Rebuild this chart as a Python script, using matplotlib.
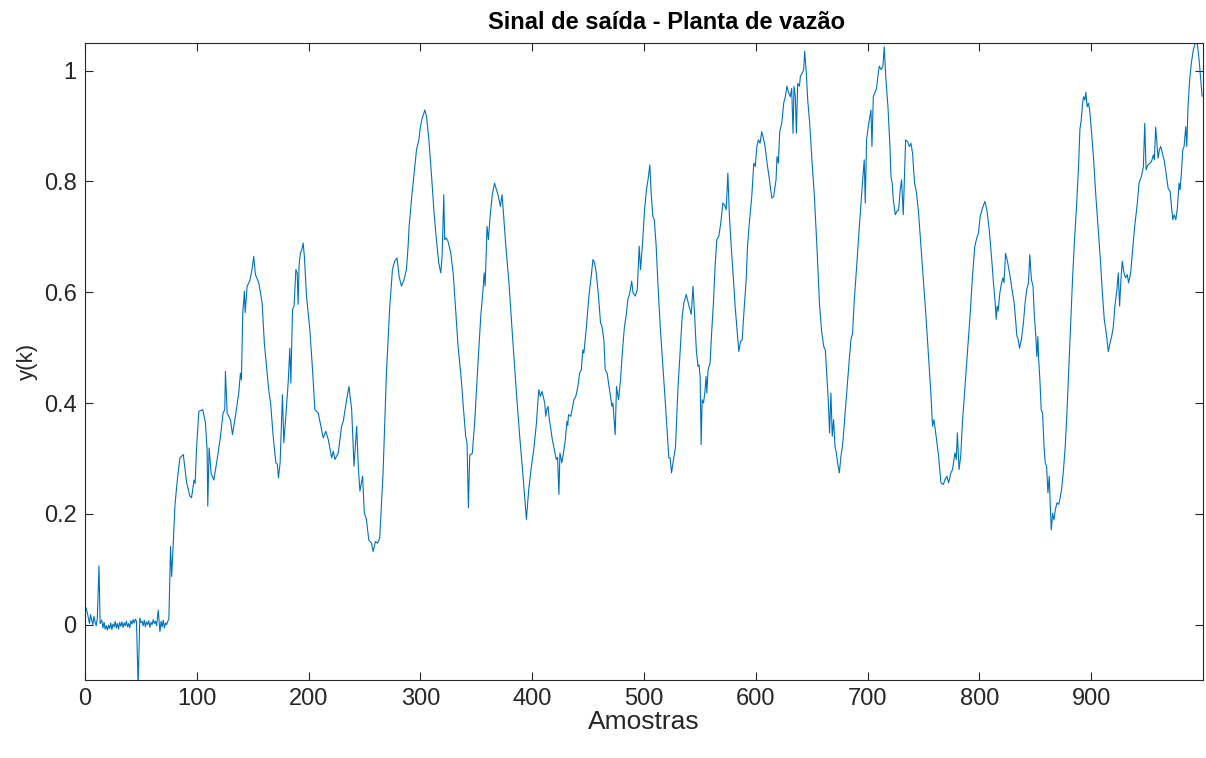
import numpy as np
import matplotlib
matplotlib.use("Agg")
import matplotlib.pyplot as plt

plt.rcParams['font.family'] = ['Liberation Sans', 'DejaVu Sans']

# sample index (k) and output y(k)
k = [1, 2, 3, 4, 5, 6, 7, 8, 9, 10, 11, 12.5, 13.5, 15, 16, 17, 18, 19, 20,
     21, 22, 23, 24, 25, 26, 27, 28, 29, 30, 31, 32, 33, 34, 35, 36, 37, 38,
     39, 40, 41, 42, 43, 44, 45, 46, 47.5, 49, 50, 51, 52, 53, 54, 55, 56,
     57, 58, 59, 60, 61, 62, 63, 64, 65.5, 67, 68, 69, 70, 71, 72, 73, 74,
     75, 76.5, 77.5, 79, 80.4, 82, 83.5, 84.9,
     87.9, 90.9, 93.8, 95.3, 97.5, 98.5, 99.7, 101.8, 105.3, 107.7, 109.2,
     109.8, 111.0, 112.8, 115.2, 118.1, 121.1, 123.5, 125.0, 125.6, 127.1,
     130.1, 131.9, 134.5, 137.5, 139.0, 139.9, 141.1, 142.6, 143.2, 145.0,
     147.3, 149.4, 150.9, 152.4, 155.4, 158.4, 160.4, 164.3,
     166.0, 168.3, 170.7, 172, 173.0, 174.5, 176.6, 177.8, 179.6, 181.7,
     183.2, 184.1, 185.6, 187, 188.6, 189.8, 190.6, 191.5, 192.7, 194, 195.1,
     196.2, 198.1, 201.1, 203.5, 205.6, 208.6, 211.6, 213.1, 215.4, 217.6,
     220.6, 222.1, 223.5, 226.5, 229.5, 231.0, 234.0, 236.1, 238.5, 240.6,
     243.0, 244.4, 245.9, 248.3, 249.8,
     251.7, 253.8, 256.2, 257.7, 259.8, 261.5, 263.6, 266.6, 269.6, 272.6,
     275.0, 277.0, 279.1, 280.9, 283.0, 285.4, 287.5, 289.0, 289.9, 292.0,
     294.4, 296.5, 298.6, 300.0, 301.6, 304.0, 305.5, 307.6, 309.8, 312.2,
     314.3, 316.4, 318.2, 319.4, 320.9, 321.7, 323.2, 324.7, 327.1, 329.3,
     331.3, 333.7, 336.6,
     338.1, 340.5, 341.7, 342.9, 344.1, 346.4, 348.5, 351.5, 354.0, 356.0,
     357.0, 357.9, 359.6, 360.8, 362.6, 364.3, 366.3, 368.0, 369.8, 371.5,
     373.0, 374.5, 376.3, 379.2, 382.8, 385.9, 388.8, 391.8, 394.8, 396.9,
     399.3, 401.4, 403.8, 405.8, 407.3, 408.8, 411.2, 412.1, 413.0, 414.1,
     415.0, 418.0, 420.9,
     421.5, 422.7, 423.9, 424.8, 426.5, 428, 429.5, 431.1, 431.8, 432.5,
     434.5, 437.3, 439, 440.9, 442.4, 443.9, 445.3, 446.2, 448.3, 450.7,
     452.8, 454.3, 455.8, 457.3, 459.3, 461.1, 462.3, 464.1, 465.3, 467,
     469.2, 471.3, 472.2, 474.2, 475.4, 477.2, 479.0, 480.8, 482.5, 484,
     485.5, 487.3, 489.0, 490.2, 492.2, 494, 495.7, 496.9, 498.7, 500.5,
     502.2, 504, 505.2, 506.4, 507.9, 509.2, 510.9, 512.4, 514.5, 516.9,
     519.3, 521.3, 522.2, 523.4, 524.6, 526.4, 528.2, 530.3, 532.4, 534.2,
     535.7, 537.8, 539.9, 542.3, 543.8, 545.3, 546.8, 548.3, 549.2, 550.2,
     551.1, 552.0, 553.2, 554.4, 555.5, 556.2, 557.3, 559.1, 560.3, 562.1,
     563.6, 565.1, 566.9, 568.7, 570.5, 572, 573.5, 575.0, 576.4, 578.2,
     580.0, 581.5, 583.0, 584.8, 586.3, 587.8, 589.3,
     591.4, 592.5, 594, 596.4, 598.2, 599.5, 600.9, 602.3, 603.8, 605.3,
     606.8, 608.3, 610.1, 612.2, 614.3, 616.0, 618.1, 619.0, 620.2, 621.4,
     623.2, 625.0, 626.2, 627.9, 629.4, 630.9, 632.1, 633.3, 634.2, 635.3,
     636.3, 637.5, 639.0, 639.9, 641.6, 642.8, 643.7, 645.2, 646.4, 648.2,
     650.0, 652.4, 654.8, 656.9, 659.0, 660.8, 662.2, 663.4, 664.8, 666.0,
     667.2, 668.4, 669.6, 670.8, 672.0, 673.2, 674.7,
     676.2, 677.7, 679.2, 681.3, 683.6, 685.1, 686.6, 688.1, 690.2, 692.0,
     694.1, 695.6, 697.0, 697.9, 699.1, 700.6, 702.1, 703.0, 703.9, 705.1,
     706.8, 708.0, 709.2, 710.4, 712.2, 713.7, 714.9, 716.4, 718.2, 720.0,
     720.9, 722, 723.0, 724.8, 726.2, 727.7, 729.2, 730.4, 731.9, 733.1,
     734.0, 735.8, 737.3, 738.8, 740.2, 742.0, 743.8, 745.6, 747.7, 749.8,
     752.2, 754.5, 756.6, 758.1, 759.3, 760.5, 761.7, 763.5,
     765.6, 767.7, 769.3, 770.9, 772.5, 774.5, 776, 778.1, 779.3, 780.3,
     781.8, 783.3, 784.8, 786.9, 789.4, 791.8, 793.8, 795.9, 797.7, 799.2,
     800.7, 802.8, 804.9, 806.7, 808.8, 810.8, 812.6, 814.1, 815.0, 815.9,
     816.8, 818.3, 819.8, 821.0, 822.0, 823.4, 825.1, 827.5, 829.6, 831.1,
     832.6, 833.5, 834.7, 835.9, 837.6, 839.4, 840.9, 842.4, 843.9, 845.1,
     846.5, 848.0,
     849.0, 850.5, 851.4, 852.3, 852.9, 854.1, 855.3, 856.5, 857.8, 858.9,
     860.1, 861.3, 862.5, 863.4, 864.3, 865.5, 866.7, 867.9, 869.4, 870.9,
     872.0, 873.5, 875.0, 876.8, 878.3, 879.8, 881.5, 883.3, 885.1, 886.9,
     888.7, 889.9, 891.1, 892.3, 893.2, 894.4, 895.2, 896.4, 897.6, 898.6,
     900.4, 902.2, 904.0, 906.1, 908.2, 910.0, 911.7, 913.5, 915.3, 916.8,
     918.3, 919.8, 921.2, 923.0, 924.2, 925.4, 926.6, 927.8, 929.3, 930.8,
     932.2, 933.5, 935.3, 936.8, 938.9, 941.3, 942.8, 944.9, 946.7, 947.9,
     949.1, 950.8, 952.6, 954, 955.6, 956.5, 957.7, 958.6, 959.8, 961,
     962.2, 963.7, 965.2, 967.0, 968.8, 970.6, 971.8, 973.0, 974.2, 975.7,
     977.1, 978.6, 979.5, 980.7, 981.9, 983.1, 984.6, 985.5, 986.6, 988.1,
     989.6, 991.4, 993.5, 995.0, 996.5, 998.0, 999.2]

y = [0.030, 0.022, 0.012, 0.002, 0.018, 0.008, 0.000, 0.015, 0.004, -0.002,
     0.012, 0.106, 0.002, 0.008, -0.006, 0.004, -0.008, -0.002, -0.010,
     -0.001, -0.007, 0.003, -0.009, 0.001, -0.004, 0.006, -0.006, 0.002,
     -0.008, 0.004, -0.003, 0.005, -0.005, 0.003, -0.002, 0.006, -0.004,
     0.002, -0.006, 0.007, 0.001, 0.009, 0.003, 0.010, 0.006, -0.11, 0.012,
     0.004, 0.006, -0.002, 0.008, -0.004, 0.005, 0.000, 0.007, -0.005, 0.004,
     0.000, 0.009, 0.002, 0.006, -0.002, 0.026, -0.013, 0.006, -0.004, 0.008,
     -0.006, 0.003, 0.000, 0.006, 0.010, 0.141, 0.087, 0.150, 0.214, 0.250,
     0.278, 0.301,
     0.307, 0.256, 0.232, 0.229, 0.261, 0.255, 0.316, 0.385, 0.388, 0.364,
     0.316, 0.214, 0.319, 0.273, 0.261, 0.297, 0.339, 0.382, 0.388, 0.457,
     0.382, 0.370, 0.343, 0.376, 0.418, 0.454, 0.442, 0.563, 0.602, 0.563,
     0.611, 0.620, 0.641, 0.665, 0.632, 0.617, 0.581, 0.508, 0.424,
     0.400, 0.340, 0.292, 0.290, 0.265, 0.292, 0.415, 0.328, 0.376, 0.436,
     0.499, 0.436, 0.569, 0.575, 0.641, 0.635, 0.578, 0.650, 0.671, 0.677,
     0.689, 0.665, 0.593, 0.532, 0.460, 0.388, 0.382, 0.352, 0.337, 0.349,
     0.334, 0.301, 0.313, 0.298, 0.310, 0.358, 0.367, 0.406, 0.430, 0.388,
     0.286, 0.358, 0.286, 0.241, 0.268, 0.202,
     0.190, 0.153, 0.147, 0.132, 0.150, 0.147, 0.156, 0.274, 0.454, 0.575,
     0.641, 0.656, 0.662, 0.629, 0.611, 0.623, 0.641, 0.683, 0.719, 0.767,
     0.815, 0.857, 0.875, 0.899, 0.914, 0.929, 0.917, 0.875, 0.815, 0.743,
     0.695, 0.653, 0.635, 0.665, 0.776, 0.695, 0.698, 0.692, 0.671, 0.635,
     0.575, 0.502, 0.442,
     0.400, 0.340, 0.328, 0.211, 0.306, 0.309, 0.364, 0.472, 0.557, 0.605,
     0.635, 0.611, 0.719, 0.695, 0.743, 0.776, 0.797, 0.785, 0.773, 0.755,
     0.776, 0.737, 0.686, 0.617, 0.508, 0.418, 0.340, 0.268, 0.190, 0.244,
     0.286, 0.316, 0.364, 0.424, 0.412, 0.421, 0.400, 0.376, 0.388, 0.394,
     0.376, 0.334, 0.304,
     0.298, 0.302, 0.235, 0.310, 0.292, 0.310, 0.331, 0.367, 0.360, 0.379,
     0.376, 0.406, 0.412, 0.430, 0.454, 0.460, 0.496, 0.490, 0.533, 0.593,
     0.629, 0.659, 0.653, 0.635, 0.593, 0.545, 0.539, 0.514, 0.460, 0.454,
     0.424, 0.394, 0.400, 0.343, 0.430, 0.406, 0.442, 0.496, 0.538, 0.557,
     0.586, 0.599, 0.620, 0.599, 0.593, 0.605, 0.683, 0.641, 0.689, 0.749,
     0.785, 0.809, 0.830, 0.779, 0.737, 0.731, 0.683, 0.617, 0.538, 0.466,
     0.394, 0.328, 0.301, 0.301, 0.274, 0.298, 0.322, 0.424, 0.496, 0.557,
     0.581, 0.596, 0.578, 0.560, 0.611, 0.557, 0.496, 0.466, 0.469, 0.448,
     0.325, 0.406, 0.400, 0.418, 0.448, 0.418, 0.460, 0.472, 0.520, 0.581,
     0.647, 0.695, 0.701, 0.725, 0.761, 0.758, 0.749, 0.815, 0.737, 0.677,
     0.623, 0.575, 0.538, 0.493, 0.511, 0.514, 0.562,
     0.623, 0.680, 0.720, 0.773, 0.833, 0.827, 0.863, 0.875, 0.869, 0.890,
     0.878, 0.863, 0.833, 0.803, 0.770, 0.773, 0.803, 0.845, 0.833, 0.890,
     0.905, 0.942, 0.951, 0.972, 0.960, 0.953, 0.968, 0.887, 0.972, 0.954,
     0.887, 0.977, 0.972, 0.990, 0.996, 1.002, 1.035, 0.996, 0.948, 0.905,
     0.845, 0.773, 0.677, 0.581, 0.527, 0.502, 0.496, 0.454, 0.406, 0.346,
     0.418, 0.340, 0.370, 0.322, 0.310, 0.292, 0.274,
     0.304, 0.325, 0.364, 0.418, 0.478, 0.514, 0.527, 0.586, 0.646, 0.701,
     0.761, 0.803, 0.839, 0.761, 0.875, 0.899, 0.917, 0.929, 0.863, 0.953,
     0.962, 0.968, 0.990, 1.008, 1.002, 1.008, 1.043, 0.984, 0.935, 0.863,
     0.809, 0.797, 0.767, 0.740, 0.746, 0.748, 0.785, 0.803, 0.740, 0.815,
     0.875, 0.872, 0.863, 0.869, 0.851, 0.797, 0.779, 0.743, 0.683, 0.623,
     0.557, 0.484, 0.418, 0.358, 0.370, 0.352, 0.334, 0.304,
     0.256, 0.253, 0.262, 0.268, 0.256, 0.274, 0.280, 0.310, 0.298, 0.346,
     0.280, 0.304, 0.364, 0.424, 0.496, 0.562, 0.629, 0.683, 0.698, 0.707,
     0.737, 0.752, 0.764, 0.749, 0.713, 0.665, 0.617, 0.581, 0.551, 0.575,
     0.566, 0.599, 0.617, 0.626, 0.617, 0.670, 0.656, 0.628, 0.599, 0.581,
     0.545, 0.521, 0.515, 0.499, 0.515, 0.545, 0.581, 0.605, 0.617, 0.668,
     0.623, 0.611,
     0.563, 0.520, 0.484, 0.520, 0.484, 0.442, 0.388, 0.382, 0.322, 0.292,
     0.286, 0.238, 0.268, 0.214, 0.171, 0.201, 0.189, 0.207, 0.220, 0.217,
     0.226, 0.244, 0.274, 0.322, 0.382, 0.454, 0.538, 0.623, 0.695, 0.755,
     0.827, 0.894, 0.911, 0.941, 0.953, 0.947, 0.961, 0.935, 0.941, 0.929,
     0.887, 0.839, 0.779, 0.719, 0.659, 0.599, 0.551, 0.526, 0.493, 0.508,
     0.520, 0.538, 0.575, 0.605, 0.635, 0.575, 0.623, 0.656, 0.635, 0.626,
     0.632, 0.617, 0.635, 0.671, 0.719, 0.761, 0.797, 0.809, 0.827, 0.905,
     0.821, 0.830, 0.833, 0.836, 0.848, 0.839, 0.898, 0.875, 0.842, 0.857,
     0.863, 0.851, 0.839, 0.815, 0.788, 0.782, 0.755, 0.731, 0.740, 0.731,
     0.752, 0.797, 0.785, 0.815, 0.857, 0.863, 0.899, 0.863, 0.935, 0.984,
     1.014, 1.038, 1.053, 1.047, 1.020, 0.984, 0.954]

xticks = [0, 100, 200, 300, 400, 500, 600, 700, 800, 900]
yticks = [0, 0.2, 0.4, 0.6, 0.8, 1.0]
ytick_labels = ['0', '0.2', '0.4', '0.6', '0.8', '1']

fig = plt.figure(figsize=(12.06, 7.58), dpi=100)
ax = fig.add_axes([0.0705, 0.1029, 0.927, 0.8404])

ax.plot(k, y, color='#0072BD', linewidth=0.8)

ax.set_xlim(0, 1000)
ax.set_ylim(-0.1, 1.05)
ax.set_xticks(xticks)
ax.set_yticks(yticks)
ax.set_yticklabels(ytick_labels)

dark = '#262626'
for s in ax.spines.values():
    s.set_color(dark)
    s.set_linewidth(0.8)
ax.tick_params(direction='in', top=True, right=True, length=6, width=0.8,
               colors=dark, labelsize=17, labelcolor=dark, pad=6)

ax.set_title('Sinal de saída - Planta de vazão', fontsize=17, fontweight='bold',
             color='black', pad=10, x=0.52)
ax.set_xlabel('Amostras', fontsize=19, color=dark, labelpad=0)
ax.set_ylabel('y(k)', fontsize=16, color=dark, labelpad=4)

fig.savefig('out.png', dpi=100)
